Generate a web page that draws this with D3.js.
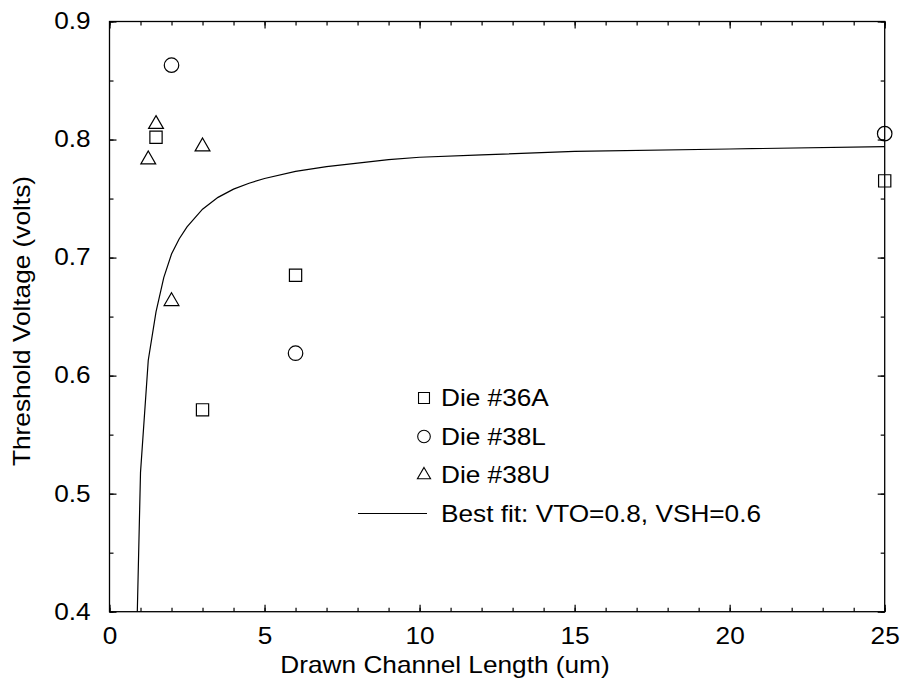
<!DOCTYPE html>
<html>
<head>
<meta charset="utf-8">
<script src="https://cdn.jsdelivr.net/npm/d3@7"></script>
<style>
  body { margin: 0; background: #fff; }
  svg text { font-family: "Liberation Sans", Arial, sans-serif; font-size: 23px; fill: #000; }
</style>
</head>
<body>
<div id="chart"></div>
<script>
const die36ALength = [1.5, 3, 6, 25];
const die36AVt     = [0.802, 0.571, 0.685, 0.765];
const die38LLength = [2, 6, 25];
const die38LVt     = [0.863, 0.619, 0.805];
const die38ULength = [1.25, 1.5, 2, 3];
const die38UVt     = [0.783, 0.813, 0.663, 0.794];

// best fit curve
const fitLength = [0.897, 1, 1.25, 1.5, 1.75, 2, 2.25, 2.5, 3, 3.5, 4, 4.5, 5, 6, 7, 8, 9, 10, 12, 15, 20, 25];
const fitVt     = [0.400, 0.518, 0.613, 0.654, 0.683, 0.703, 0.716, 0.726, 0.741, 0.751, 0.758, 0.763, 0.767, 0.773, 0.777, 0.780, 0.783, 0.785, 0.787, 0.790, 0.792, 0.794];

const xMajor = [0, 5, 10, 15, 20, 25];
const xMinor = d3.range(0, 26, 1);
const yMajor = [0.4, 0.5, 0.6, 0.7, 0.8, 0.9];
const yMinor = d3.range(0.4, 0.9001, 0.05);

const legendLabels = ['Die #36A', 'Die #38L', 'Die #38U', 'Best fit: VTO=0.8, VSH=0.6'];

const W = 902, H = 687;
const plotL = 109.5, plotR = 884.7, plotT = 21.5, plotB = 611.7;
const stretch = 1.14;

const svg = d3.select('#chart').append('svg')
    .attr('width', W)
    .attr('height', H);

const x = d3.scaleLinear().domain([0, 25]).range([plotL, plotR]);
const y = d3.scaleLinear().domain([0.4, 0.9]).range([plotB, plotT]);

function addAxis(axis, tx, ty) {
    const g = svg.append('g')
        .attr('transform', `translate(${tx},${ty})`)
        .call(axis);
    g.select('.domain').remove();
    g.selectAll('line').attr('stroke', '#000').attr('stroke-width', 1.2);
    return g;
}

// minor ticks on all four sides
addAxis(d3.axisBottom(x).tickValues(xMinor).tickSize(-4).tickFormat(''), 0, plotB);
addAxis(d3.axisTop(x).tickValues(xMinor).tickSize(-4).tickFormat(''), 0, plotT);
addAxis(d3.axisLeft(y).tickValues(yMinor).tickSize(-4).tickFormat(''), plotL, 0);
addAxis(d3.axisRight(y).tickValues(yMinor).tickSize(-4).tickFormat(''), plotR, 0);

// major ticks and labels
const xAx = addAxis(d3.axisBottom(x).tickValues(xMajor).tickSize(-7).tickPadding(16).tickFormat(d3.format('d')), 0, plotB);
addAxis(d3.axisTop(x).tickValues(xMajor).tickSize(-7).tickFormat(''), 0, plotT);
const yAx = addAxis(d3.axisLeft(y).tickValues(yMajor).tickSize(-7).tickPadding(16.5).tickFormat(d3.format('.1f')), plotL, 0);
addAxis(d3.axisRight(y).tickValues(yMajor).tickSize(-7).tickFormat(''), plotR, 0);

[xAx, yAx].forEach(g => {
    g.attr('font-size', null).attr('font-family', null);
    g.selectAll('text').attr('transform', `scale(${stretch},1)`);
});

// frame
svg.append('rect')
    .attr('x', plotL).attr('y', plotT)
    .attr('width', plotR - plotL).attr('height', plotB - plotT)
    .attr('fill', 'none').attr('stroke', '#000').attr('stroke-width', 1.3);

// axis titles
svg.append('g')
    .attr('transform', `translate(445,673) scale(${stretch},1)`)
    .append('text')
    .attr('text-anchor', 'middle')
    .text('Drawn Channel Length (um)');

svg.append('g')
    .attr('transform', `translate(30,321) rotate(-90) scale(${stretch},1)`)
    .append('text')
    .attr('text-anchor', 'middle')
    .text('Threshold Voltage (volts)');

// best fit line
const fitData = fitLength.map((d, i) => [d, fitVt[i]]);
svg.append('path')
    .datum(fitData)
    .attr('fill', 'none')
    .attr('stroke', '#000')
    .attr('stroke-width', 1.2)
    .attr('d', d3.line().x(d => x(d[0])).y(d => y(d[1])));

const symSquare = d3.symbol().type(d3.symbolSquare).size(150);
const symCircle = d3.symbol().type(d3.symbolCircle).size(165);
const symTriangle = d3.symbol().type(d3.symbolTriangle).size(95);

function drawSeries(lens, vts, sym) {
    svg.append('g').selectAll('path')
        .data(lens.map((d, i) => [d, vts[i]]))
        .enter()
        .append('path')
        .attr('d', sym)
        .attr('transform', d => `translate(${x(d[0])},${y(d[1])})`)
        .attr('fill', 'none')
        .attr('stroke', '#000')
        .attr('stroke-width', 1.2);
}

drawSeries(die36ALength, die36AVt, symSquare);
drawSeries(die38LLength, die38LVt, symCircle);
drawSeries(die38ULength, die38UVt, symTriangle);

// legend
const legSyms = [
    d3.symbol().type(d3.symbolSquare).size(120),
    d3.symbol().type(d3.symbolCircle).size(125),
    d3.symbol().type(d3.symbolTriangle).size(75),
    null
];
const legend = svg.append('g');
legendLabels.forEach((label, i) => {
    const cy = 398 + i * 38.5;
    if (legSyms[i]) {
        legend.append('path')
            .attr('d', legSyms[i])
            .attr('transform', `translate(424,${cy})`)
            .attr('fill', 'none')
            .attr('stroke', '#000')
            .attr('stroke-width', 1.1);
    } else {
        legend.append('line')
            .attr('x1', 358).attr('x2', 427)
            .attr('y1', cy).attr('y2', cy)
            .attr('stroke', '#000').attr('stroke-width', 1.2);
    }
    legend.append('g')
        .attr('transform', `translate(441,${cy + 8.3}) scale(${stretch},1)`)
        .append('text')
        .text(label);
});
</script>
</body>
</html>
